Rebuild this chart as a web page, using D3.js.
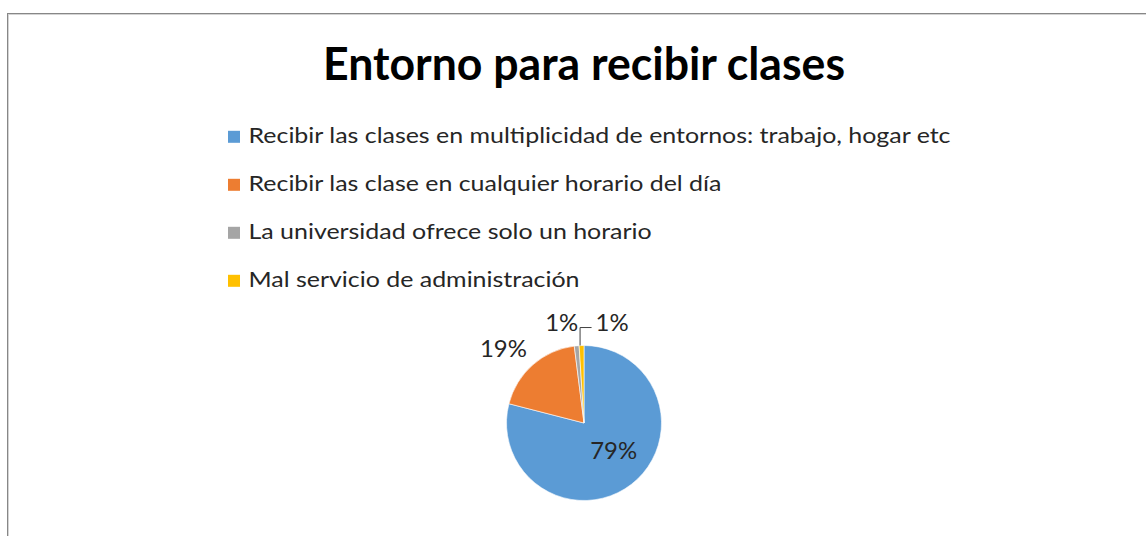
<!DOCTYPE html>
<html><head><meta charset="utf-8">
<script src="https://cdn.jsdelivr.net/npm/d3@7"></script>
<style>html,body{margin:0;padding:0;background:#fff;}svg{display:block;}</style>
</head><body>
<svg id="chart" width="1146" height="536"></svg>
<script>
const title = "Entorno para recibir clases";
const categories = [
  "Recibir las clases en multiplicidad de entornos: trabajo, hogar etc",
  "Recibir las clase en cualquier horario del día",
  "La universidad ofrece solo un horario",
  "Mal servicio de administración"
];
const values = [79, 19, 1, 1];
const colors = ["#5B9BD5", "#ED7D31", "#A5A5A5", "#FFC000"];

const FONT = "Lato, 'Open Sans', sans-serif";
const svg = d3.select("#chart");
const W = 1146, H = 536;

// frame
svg.append("rect").attr("x", 8.5).attr("y", 14.5).attr("width", W).attr("height", H)
  .attr("fill", "none").attr("stroke", "#d4d4d4");
svg.append("rect").attr("x", 7.5).attr("y", 13.5).attr("width", W).attr("height", H)
  .attr("fill", "none").attr("stroke", "#878787");

function fitText(sel, target) {
  const n = sel.node().getComputedTextLength();
  sel.attr("textLength", target).attr("lengthAdjust", "spacingAndGlyphs");
  return target / n;
}

// title
const t = svg.append("text").attr("x", 323).attr("y", 80)
  .attr("font-family", FONT).attr("font-weight", "bold").attr("font-size", 45)
  .attr("fill", "#000").text(title);
fitText(t, 522);

// legend
const legY = d3.scalePoint().domain(categories).range([143.3, 287.3]);
const leg = svg.append("g");
let ratio = null;
categories.forEach((c, i) => {
  const y = legY(c);
  leg.append("rect").attr("x", 228).attr("y", y - 12.5).attr("width", 12).attr("height", 12)
    .attr("fill", colors[i]);
  const tx = leg.append("text").attr("x", 248.5).attr("y", y)
    .attr("font-family", FONT).attr("font-size", 21).attr("fill", "#262626").text(c);
  const n = tx.node().getComputedTextLength();
  if (ratio === null) ratio = 702 / n;
  tx.attr("textLength", n * ratio).attr("lengthAdjust", "spacingAndGlyphs");
});

// pie
const cx = 584, cy = 423, R = 77.5;
const pie = d3.pie().sort(null).value(d => d)(values);
const arc = d3.arc().innerRadius(0).outerRadius(R);
const g = svg.append("g").attr("transform", `translate(${cx},${cy})`);
g.selectAll("path").data(pie).join("path")
  .attr("d", arc).attr("fill", (d, i) => colors[i])
  .attr("stroke", "#fff").attr("stroke-width", 0.6);

const pct = v => Math.round(v / d3.sum(values) * 100) + "%";
const mid = d => (d.startAngle + d.endAngle) / 2;
const polar = (a, r) => [Math.sin(a) * r, -Math.cos(a) * r];

function label(x, y, txt, anchor) {
  const el = g.append("text").attr("x", x).attr("y", y)
    .attr("font-family", FONT).attr("font-size", 23).attr("fill", "#262626")
    .attr("text-anchor", anchor).attr("dominant-baseline", "central").text(txt);
  const n = el.node().getComputedTextLength();
  el.attr("textLength", n * 1.04).attr("lengthAdjust", "spacingAndGlyphs");
  return el;
}
// 79% inside
{
  const [x, y] = polar(mid(pie[0]) - 0.15, R * 0.51);
  label(x + 1, y, pct(values[0]), "middle");
}
// 19% outside
{
  const [x, y] = polar(mid(pie[1]) - 0.1, R * 1.42);
  label(x, y, pct(values[1]), "middle");
}
// 1% gray, left
{
  const [x, y] = polar(mid(pie[2]), R);
  label(x + 1.5, y - 24, pct(values[2]), "end");
}
// 1% yellow, with leader line
{
  const [x, y] = polar(mid(pie[3]), R);
  const ly = y - 18;
  g.append("path").attr("d", `M${x - 1.5},${y} L${x - 1.5},${ly} L${x + 10},${ly}`)
    .attr("fill", "none").attr("stroke", "#404040").attr("stroke-width", 1);
  label(x + 14, y - 24, pct(values[3]), "start");
}
</script>
</body></html>
